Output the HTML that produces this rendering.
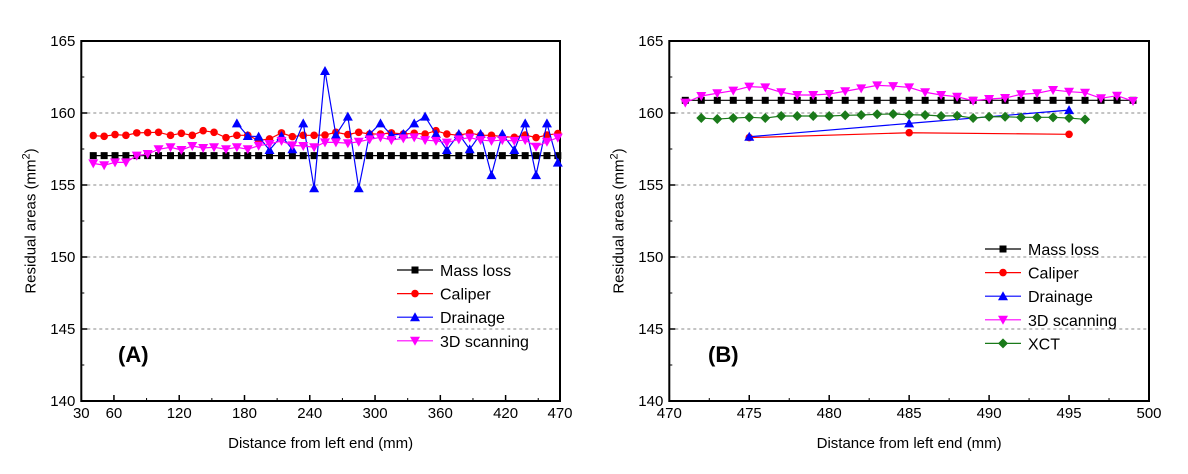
<!DOCTYPE html>
<html><head><meta charset="utf-8"><style>
body{margin:0;background:#fff;}
svg{display:block;font-family:"Liberation Sans",Arial,sans-serif;}
</style></head><body>
<svg id="chart" width="1188" height="474" viewBox="0 0 1188 474"></svg>
<script>
const catA = [41,51,61,71,81,91,101,112,122,132,142,152,163,173,183,193,203,214,224,234,244,254,264,275,285,295,305,315,326,336,346,356,366,377,387,397,407,417,428,438,448,458,468];
const massA = catA.map(()=>157.04);
const caliperA = [158.43,158.38,158.5,158.45,158.62,158.64,158.66,158.45,158.59,158.45,158.77,158.66,158.29,158.45,158.45,158.1,158.2,158.62,158.36,158.45,158.45,158.47,158.66,158.5,158.66,158.54,158.54,158.62,158.54,158.59,158.54,158.77,158.54,158.45,158.62,158.45,158.45,158.36,158.31,158.47,158.29,158.47,158.57];
const scanA = [156.5,156.37,156.57,156.57,157.04,157.15,157.48,157.62,157.43,157.71,157.57,157.62,157.48,157.62,157.48,157.73,157.85,158.06,157.75,157.71,157.62,157.96,157.96,157.9,158.0,158.17,158.31,158.12,158.24,158.31,158.12,158.06,157.94,158.17,158.29,158.12,158.06,158.12,158.06,158.12,157.66,158.0,158.29];
const drainIdxStart = 13;
const drainA = [159.28,158.4,158.36,157.43,158.4,157.48,159.28,154.77,162.92,158.47,159.75,154.77,158.54,159.28,158.47,158.54,159.28,159.75,158.54,157.43,158.54,157.48,158.54,155.69,158.54,157.43,159.28,155.69,159.28,156.55];

const catB = [471,472,473,474,475,476,477,478,479,480,481,482,483,484,485,486,487,488,489,490,491,492,493,494,495,496,497,498,499];
const massB = catB.map(()=>160.88);
const scanB = [160.72,161.18,161.37,161.55,161.83,161.78,161.44,161.25,161.25,161.32,161.51,161.71,161.92,161.87,161.78,161.44,161.25,161.13,160.85,160.97,161.04,161.3,161.37,161.6,161.48,161.41,161.02,161.2,160.83];
const catXct = [472,473,474,475,476,477,478,479,480,481,482,483,484,485,486,487,488,489,490,491,492,493,494,495,496];
const xctB = [159.65,159.58,159.65,159.7,159.65,159.79,159.79,159.79,159.79,159.84,159.86,159.91,159.93,159.88,159.86,159.79,159.81,159.65,159.74,159.74,159.7,159.7,159.7,159.65,159.56];
const catSparse = [475,485,495];
const drainB = [158.35,159.28,160.2];
const caliperB = [158.29,158.63,158.52];

const yTicks = [140,145,150,155,160,165];
const xTicksA = [30,60,120,180,240,300,360,420,470];
const xMinorA = [90,150,210,270,330,390,450];
const xTicksB = [470,475,480,485,490,495,500];
const xMinorB = [472.5,477.5,482.5,487.5,492.5,497.5];

const NS="http://www.w3.org/2000/svg";
const svg=document.getElementById('chart');
function mk(tag,attrs,parent){const e=document.createElementNS(NS,tag);for(const k in attrs)e.setAttribute(k,attrs[k]);(parent||svg).appendChild(e);return e;}
const Y0=41,Y1=401;
function yS(v){return Y1-(v-140)/25*(Y1-Y0);}

function marker(g,type,x,y,color){
  let m;
  if(type==='sq') m=mk('rect',{x:x-3.5,y:y-3.5,width:7,height:7,fill:color},g);
  else if(type==='ci') m=mk('circle',{cx:x,cy:y,r:3.8,fill:color},g);
  else if(type==='up') m=mk('polygon',{points:`${x},${y-5} ${x-5},${y+4} ${x+5},${y+4}`,fill:color},g);
  else if(type==='dn') m=mk('polygon',{points:`${x},${y+5} ${x-5},${y-4} ${x+5},${y-4}`,fill:color},g);
  else m=mk('polygon',{points:`${x},${y-5} ${x+5},${y} ${x},${y+5} ${x-5},${y}`,fill:color},g);
  return m;
}
function series(name,xs,ys,xS,type,color){
  const g=mk('g',{});
  
  
  const pts=xs.map((x,i)=>xS(x)+','+yS(ys[i])).join(' ');
  mk('polyline',{points:pts,fill:'none',stroke:color,'stroke-width':1.2},g);
  xs.forEach((x,i)=>{const m=marker(g,type,xS(x),yS(ys[i]),color);
    
    });
}
function panel(id,X0,X1,xmin,xmax,ticks,minor){
  const xS=v=>X0+(v-xmin)/(xmax-xmin)*(X1-X0);
  const g=mk('g',{});
  
  
  [145,150,155,160].forEach(v=>{const l=mk('line',{x1:X0,x2:X1,y1:yS(v),y2:yS(v),stroke:'#888','stroke-dasharray':'3,3','stroke-width':1},g);
    
    });
  mk('rect',{x:X0,y:Y0,width:X1-X0,height:Y1-Y0,fill:'none',stroke:'#000','stroke-width':2},g);
  yTicks.forEach(v=>{mk('line',{x1:X0,x2:X0+6,y1:yS(v),y2:yS(v),stroke:'#000','stroke-width':1.5},g);
    const t=mk('text',{x:X0-6,y:yS(v)+5,'text-anchor':'end','font-size':15},g);t.textContent=v;
    
    });
  [142.5,147.5,152.5,157.5,162.5].forEach(v=>mk('line',{x1:X0,x2:X0+3,y1:yS(v),y2:yS(v),stroke:'#000','stroke-width':1},g));
  ticks.forEach(v=>{mk('line',{x1:xS(v),x2:xS(v),y1:Y1,y2:Y1-6,stroke:'#000','stroke-width':1.5},g);
    const t=mk('text',{x:xS(v),y:Y1+17,'text-anchor':'middle','font-size':15},g);t.textContent=v;
    
    });
  minor.forEach(v=>mk('line',{x1:xS(v),x2:xS(v),y1:Y1,y2:Y1-3,stroke:'#000','stroke-width':1},g));
  const xt=mk('text',{x:(X0+X1)/2,y:448,'text-anchor':'middle','font-size':15},g);xt.textContent='Distance from left end (mm)';
  
  
  const cx=X0-46,cy=(Y0+Y1)/2;
  const yt=mk('text',{x:cx,y:cy,'text-anchor':'middle','font-size':15,transform:`rotate(-90 ${cx} ${cy})`},g);
  yt.innerHTML='Residual areas (mm<tspan dy="-6" font-size="11">2</tspan><tspan dy="6">)</tspan>';
  
  
  return xS;
}
function legend(x,y0,items){
  const g=mk('g',{});
  
  
  items.forEach((it,i)=>{const y=y0+i*23.6;
    const e=mk('g',{},g);
    
    
    mk('line',{x1:x,x2:x+36,y1:y,y2:y,stroke:it[2],'stroke-width':1.2},e);
    marker(e,it[1],x+18,y,it[2]);
    const t=mk('text',{x:x+43,y:y+6,'font-size':16},e);t.textContent=it[0];});
}
const xA=panel('panel-a',81.3,560,30,470,xTicksA,xMinorA);
series('mass-loss-a',catA,massA,xA,'sq','#000');
series('caliper-a',catA,caliperA,xA,'ci','#f00');
series('drainage-a',catA.slice(drainIdxStart),drainA,xA,'up','#00f');
series('scanning-a',catA,scanA,xA,'dn','#f0f');
legend(397,270,[['Mass loss','sq','#000'],['Caliper','ci','#f00'],['Drainage','up','#00f'],['3D scanning','dn','#f0f']]);
const la=mk('text',{x:118,y:362,'font-size':22,'font-weight':'bold'});la.textContent='(A)';



const xB=panel('panel-b',669.3,1149,470,500,xTicksB,xMinorB);
series('mass-loss-b',catB,massB,xB,'sq','#000');
series('caliper-b',catSparse,caliperB,xB,'ci','#f00');
series('drainage-b',catSparse,drainB,xB,'up','#00f');
series('scanning-b',catB,scanB,xB,'dn','#f0f');
series('xct-b',catXct,xctB,xB,'di','#1a7a1a');
legend(985,249,[['Mass loss','sq','#000'],['Caliper','ci','#f00'],['Drainage','up','#00f'],['3D scanning','dn','#f0f'],['XCT','di','#1a7a1a']]);
const lb=mk('text',{x:708,y:362,'font-size':22,'font-weight':'bold'});lb.textContent='(B)';


</script>
</body></html>
